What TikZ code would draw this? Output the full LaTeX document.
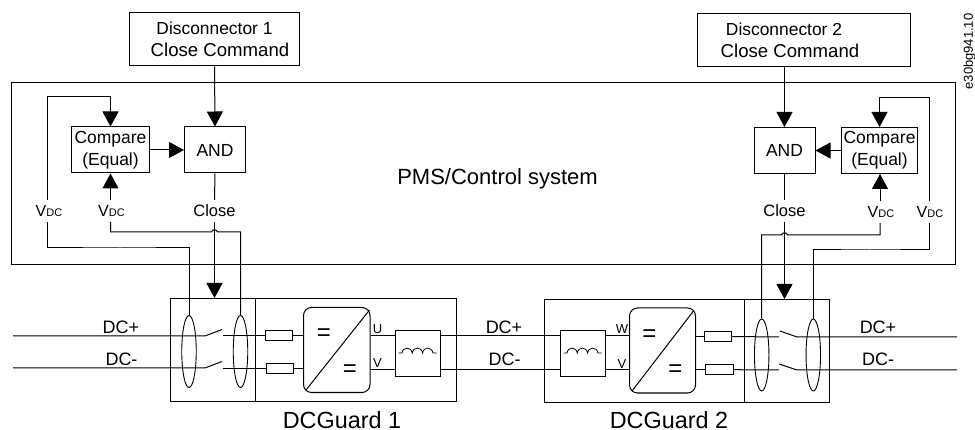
\documentclass[tikz,border=0pt]{standalone}
\usepackage{fontspec}
\setmainfont{Liberation Sans}
\usetikzlibrary{arrows.meta,shapes.geometric}
\newcommand{\fs}[1]{\fontsize{#1}{22}\selectfont}
\newcommand{\vdclabel}{{\fs{16}V}{\fs{11}DC}}
\tikzset{
  x=1pt,y=-1pt,
  wire/.style={line width=1pt,line cap=butt},
  arr/.style={wire,-{Triangle[length=15pt,width=16pt]}},
  boxn/.style={draw,line width=1pt,inner sep=0pt,align=center},
  sized/.style n args={2}{minimum width=#1,minimum height=#2},
  labeln/.style={inner sep=0pt,minimum height=22pt,align=center},
  loop/.style={draw,ellipse,line width=0.9pt,inner sep=0pt,minimum width=14.5pt,minimum height=72pt},
  fuse/.style={draw,line width=1pt,inner sep=0pt,minimum width=27.5pt,minimum height=9.5pt},
  conv/.style={draw,line width=1pt,rounded corners=8pt,inner sep=0pt},
  txt/.style={inner sep=0pt}
}
\begin{document}
\begin{tikzpicture}
\useasboundingbox (0,0) rectangle (975,430);
% system frame and commands
\node[boxn,sized={943.5pt}{181.5pt}] (pms) at (483.25,173.75) {};
\node[txt] (pmstext) at (497.5,178.5) {\fs{22}PMS/Control system};
\node[boxn,sized={170pt}{53pt},font=\fs{18.6}] (disc1) at (214.5,39.5) {{\fs{17.4}Disconnector 1}\\\hspace*{11pt}Close Command};
\node[boxn,sized={213pt}{53pt},font=\fs{18.6}] (disc2) at (803.5,40.5) {{\fs{17.4}Disconnector 2}\hspace*{39pt}\\Close Command\hspace*{27pt}};
% compare and AND
\node[boxn,sized={78pt}{46pt},font=\fs{17.5}] (cmp1) at (110.5,150) {Compare\\(Equal)};
\node[boxn,sized={61pt}{46pt},font=\fs{17.5}] (and1) at (215,150) {AND};
\node[boxn,sized={75.5pt}{46pt},font=\fs{17.5}] (cmp2) at (879.5,150.5) {Compare\\(Equal)};
\node[boxn,sized={61pt}{46pt},font=\fs{17.5}] (and2) at (784.5,150.5) {AND};
% signal labels
\node[labeln] (v1o) at (47,211) {\hspace*{4pt}\vdclabel};
\node[labeln] (v1i) at (110.5,211) {\hspace*{2pt}\vdclabel};
\node[labeln,font=\fs{16.5}] (cl1) at (214.5,211) {Close};
\node[labeln,font=\fs{16.5}] (cl2) at (784.5,211) {Close};
\node[labeln] (v2i) at (880,212) {\hspace*{2pt}\vdclabel};
\node[labeln] (v2o) at (929,212) {\hspace*{2pt}\vdclabel};
% guards
\node[boxn,sized={84.5pt}{102.5pt}] (sw1) at (212.75,349.75) {};
\node[boxn,sized={201pt}{102.5pt}] (dg1) at (355.5,349.75) {};
\node[boxn,sized={200pt}{102.5pt}] (dg2) at (644.5,350.75) {};
\node[boxn,sized={85pt}{102.5pt}] (sw2) at (787,350.75) {};
\node[txt,font=\fs{23.4}] (name1) at (342,420) {DCGuard 1};
\node[txt,font=\fs{23.4}] (name2) at (669,420) {DCGuard 2};
% sensing loops
\node[loop] (l1a) at (189,351.5) {};
\node[loop] (l1b) at (240.5,351.5) {};
\node[loop] (l2a) at (761.7,355) {};
\node[loop] (l2b) at (813.3,355) {};
% fuses
\node[fuse] (f1a) at (279,335.5) {};
\node[fuse] (f1b) at (280,368.5) {};
\node[fuse] (f2a) at (718,336.5) {};
\node[fuse] (f2b) at (719.3,369.7) {};
% converters
\node[conv,sized={66.5pt}{85pt}] (c1) at (336.75,350) {};
\node[conv,sized={66pt}{85pt}] (c2) at (662.5,350.5) {};
\coordinate (c1d1) at (369.5,310);
\coordinate (c1d2) at (306,390);
\coordinate (c2d1) at (693.5,311);
\coordinate (c2d2) at (632,391);
\draw[wire] (c1d1) -- (c1d2);
\draw[wire] (c2d1) -- (c2d2);
\node[txt,font=\fs{24}] (eq1a) at (324,335) {=};
\node[txt,font=\fs{24}] (eq1b) at (350,371) {=};
\node[txt,font=\fs{24}] (eq2a) at (649.5,336) {=};
\node[txt,font=\fs{24}] (eq2b) at (675.5,371) {=};
\node[txt,font=\fs{13}] (pu1) at (377.5,329) {U};
\node[txt,font=\fs{13}] (pv1) at (377.5,363) {V};
\node[txt,font=\fs{13}] (pw2) at (622,329) {W};
\node[txt,font=\fs{13}] (pv2) at (622,364) {V};
% inductors
\node[boxn,sized={45pt}{46.5pt}] (i1) at (417.5,353.5) {};
\node[boxn,sized={45pt}{46.5pt}] (i2) at (582.5,353.5) {};
\draw[wire,line width=0.8pt] (398.5,353) -- (402,353) .. controls (403,346.5) and (411,346.5) .. (412.3,353) .. controls (413.3,346.5) and (421.5,346.5) .. (422.6,353) .. controls (423.6,346.5) and (431.8,346.5) .. (433,353) -- (436.5,353);
\draw[wire,line width=0.8pt] (563.5,353) -- (567,353) .. controls (568,346.5) and (576,346.5) .. (577.3,353) .. controls (578.3,346.5) and (586.5,346.5) .. (587.6,353) .. controls (588.6,346.5) and (596.8,346.5) .. (598,353) -- (601.5,353);
% DC labels
\node[txt,font=\fs{18}] (dp1) at (121,327.5) {DC+};
\node[txt,font=\fs{18}] (dm1) at (121.5,359.5) {DC-};
\node[txt,font=\fs{18}] (dp2) at (504,327.5) {DC+};
\node[txt,font=\fs{18}] (dm2) at (504.5,359.5) {DC-};
\node[txt,font=\fs{18}] (dp3) at (878,327.5) {DC+};
\node[txt,font=\fs{18}] (dm3) at (878,359.5) {DC-};
\node[txt,font=\fs{13},rotate=90] (code) at (969.5,51.5) {e30bg941.10};
% helper coordinates
\coordinate (ya) at (500,336);
\coordinate (yb) at (500,370);
\coordinate (t1) at (110.5,97);
\coordinate (t2) at (879.5,98);
\coordinate (w1o) at (120,248);
\coordinate (w1iL) at (211.5,232);
\coordinate (w1iR) at (217.5,232);
\coordinate (w2iL) at (781.5,235);
\coordinate (w2iR) at (787.5,235);
\coordinate (w2o) at (870,250);
\coordinate (in1a) at (13,336);
\coordinate (in1b) at (13,368);
\coordinate (k1a) at (205,336);
\coordinate (k1b) at (205,368);
\coordinate (b1a) at (222,329.5);
\coordinate (b1b) at (222,361.5);
\coordinate (s1a) at (223,335.5);
\coordinate (s1b) at (223,368.5);
\coordinate (in3a) at (957,337);
\coordinate (in3b) at (957,370);
\coordinate (k2a) at (797,337);
\coordinate (k2b) at (797,370);
\coordinate (b2a) at (780,331);
\coordinate (b2b) at (779,364);
\coordinate (s2a) at (779,337);
\coordinate (s2b) at (779,370);
% control connectors, left
\draw[arr] (disc1.south) -- (and1.north);
\draw[arr] (cmp1.east) -- (and1.west);
\draw[arr] (v1o.north) |- (t1) -- (cmp1.north);
\draw[arr] (v1i.north) -- (cmp1.south);
\draw[wire] (v1o.south) |- (w1o) -| (l1a.north);
\draw[wire] (v1i.south) |- (w1iL) .. controls (212.5,229) and (216.5,229) .. (w1iR) -| (l1b.north);
\draw[wire] (and1.south) -- (cl1.north);
\draw[arr] (cl1.south) -- (cl1.south |- sw1.north);
% control connectors, right
\draw[arr] (and2.north |- disc2.south) -- (and2.north);
\draw[arr] (cmp2.west) -- (and2.east);
\draw[arr] (v2o.north) |- (t2) -- (cmp2.north);
\draw[arr] (v2i.north) -- (cmp2.south -| v2i.north);
\draw[wire] (v2o.south) |- (w2o) -| (l2b.north);
\draw[wire] (v2i.south) |- (w2iR) .. controls (786.5,232) and (782.5,232) .. (w2iL) -| (l2a.north);
\draw[wire] (and2.south) -- (cl2.north);
\draw[arr] (cl2.south) -- (cl2.south |- sw2.north);
% power, left
\draw[wire] (in1a) -- (k1a) -- (b1a);
\draw[wire] (in1b) -- (k1b) -- (b1b);
\draw[wire] (s1a) -- (f1a.west);
\draw[wire] (s1b) -- (f1b.west);
\draw[wire] (f1a.east) -- (f1a.east -| c1.west);
\draw[wire] (f1b.east) -- (f1b.east -| c1.west);
\draw[wire] (ya -| c1.east) -- (ya -| i1.west);
\draw[wire] (yb -| c1.east) -- (yb -| i1.west);
\draw[wire] (ya -| i1.east) -- (ya -| i2.west);
\draw[wire] (yb -| i1.east) -- (yb -| i2.west);
% power, right
\draw[wire] (ya -| i2.east) -- (ya -| c2.west);
\draw[wire] (yb -| i2.east) -- (yb -| c2.west);
\draw[wire] (f2a.west -| c2.east) -- (f2a.west);
\draw[wire] (f2b.west -| c2.east) -- (f2b.west);
\draw[wire] (f2a.east) -- (s2a);
\draw[wire] (f2b.east) -- (s2b);
\draw[wire] (b2a) -- (k2a) -- (in3a);
\draw[wire] (b2b) -- (k2b) -- (in3b);
\end{tikzpicture}
\end{document}
